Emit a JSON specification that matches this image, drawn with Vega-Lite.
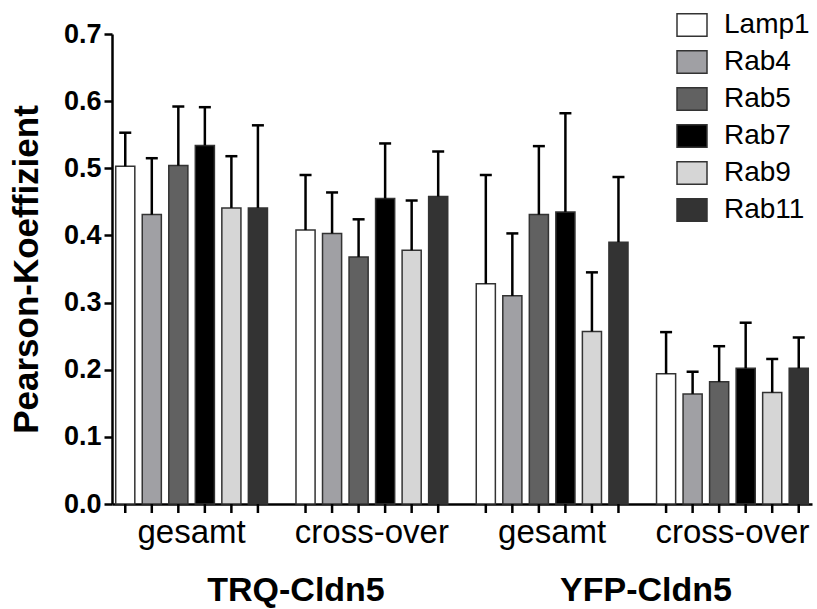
{
  "$schema": "https://vega.github.io/schema/vega-lite/v6.json",
  "width": 700,
  "height": 470,
  "autosize": "none",
  "padding": {"left": 112, "top": 34, "right": 5, "bottom": 105},
  "background": "white",
  "config": {"view": {"stroke": null}, "font": "Liberation Sans", "axis": {"grid": false}},
  "datasets": {
    "main": [
      {"group": "TRQ-Cldn5 gesamt", "protein": "Lamp1", "mean": 0.503, "upper": 0.553},
      {"group": "TRQ-Cldn5 gesamt", "protein": "Rab4", "mean": 0.431, "upper": 0.515},
      {"group": "TRQ-Cldn5 gesamt", "protein": "Rab5", "mean": 0.504, "upper": 0.592},
      {"group": "TRQ-Cldn5 gesamt", "protein": "Rab7", "mean": 0.534, "upper": 0.591},
      {"group": "TRQ-Cldn5 gesamt", "protein": "Rab9", "mean": 0.441, "upper": 0.518},
      {"group": "TRQ-Cldn5 gesamt", "protein": "Rab11", "mean": 0.441, "upper": 0.564},
      {"group": "TRQ-Cldn5 cross-over", "protein": "Lamp1", "mean": 0.408, "upper": 0.490},
      {"group": "TRQ-Cldn5 cross-over", "protein": "Rab4", "mean": 0.403, "upper": 0.464},
      {"group": "TRQ-Cldn5 cross-over", "protein": "Rab5", "mean": 0.368, "upper": 0.424},
      {"group": "TRQ-Cldn5 cross-over", "protein": "Rab7", "mean": 0.455, "upper": 0.537},
      {"group": "TRQ-Cldn5 cross-over", "protein": "Rab9", "mean": 0.378, "upper": 0.452},
      {"group": "TRQ-Cldn5 cross-over", "protein": "Rab11", "mean": 0.458, "upper": 0.525},
      {"group": "YFP-Cldn5 gesamt", "protein": "Lamp1", "mean": 0.328, "upper": 0.490},
      {"group": "YFP-Cldn5 gesamt", "protein": "Rab4", "mean": 0.310, "upper": 0.403},
      {"group": "YFP-Cldn5 gesamt", "protein": "Rab5", "mean": 0.431, "upper": 0.533},
      {"group": "YFP-Cldn5 gesamt", "protein": "Rab7", "mean": 0.435, "upper": 0.582},
      {"group": "YFP-Cldn5 gesamt", "protein": "Rab9", "mean": 0.257, "upper": 0.345},
      {"group": "YFP-Cldn5 gesamt", "protein": "Rab11", "mean": 0.390, "upper": 0.487},
      {"group": "YFP-Cldn5 cross-over", "protein": "Lamp1", "mean": 0.194, "upper": 0.256},
      {"group": "YFP-Cldn5 cross-over", "protein": "Rab4", "mean": 0.164, "upper": 0.197},
      {"group": "YFP-Cldn5 cross-over", "protein": "Rab5", "mean": 0.182, "upper": 0.235},
      {"group": "YFP-Cldn5 cross-over", "protein": "Rab7", "mean": 0.202, "upper": 0.270},
      {"group": "YFP-Cldn5 cross-over", "protein": "Rab9", "mean": 0.166, "upper": 0.216},
      {"group": "YFP-Cldn5 cross-over", "protein": "Rab11", "mean": 0.202, "upper": 0.248}
    ],
    "constructs": [
      {"construct": "TRQ-Cldn5"},
      {"construct": "YFP-Cldn5"}
    ]
  },
  "layer": [
    {
      "data": {"name": "main"},
      "encoding": {
        "x": {
          "field": "group", "type": "nominal", "sort": null,
          "scale": {"paddingInner": 0.117, "paddingOuter": 0},
          "axis": {
            "title": null, "ticks": false, "domainColor": "black", "domainWidth": 2.5,
            "labelFontSize": 33, "labelColor": "black", "labelPadding": 12, "labelAngle": 0,
            "labelExpr": "split(datum.label, ' ')[1]"
          }
        },
        "xOffset": {
          "field": "protein", "type": "nominal", "sort": null,
          "scale": {"paddingInner": 0.28, "paddingOuter": 0.14}
        }
      },
      "layer": [
        {
          "mark": {"type": "bar", "stroke": "#333333", "strokeWidth": 1.5},
          "encoding": {
            "y": {
              "field": "mean", "type": "quantitative",
              "scale": {"domain": [0, 0.7], "nice": false},
              "axis": {
                "title": "Pearson-Koeffizient", "titleFontSize": 35, "titleFontWeight": "bold",
                "titleColor": "black", "titlePadding": 19,
                "values": [0, 0.1, 0.2, 0.3, 0.4, 0.5, 0.6, 0.7], "format": ".1f",
                "domainColor": "black", "domainWidth": 2.5, "tickColor": "black", "tickWidth": 2.5,
                "tickSize": 8, "labelFontSize": 27, "labelFontWeight": "bold", "labelColor": "black",
                "labelPadding": 3
              }
            },
            "fill": {
              "field": "protein", "type": "nominal", "sort": null,
              "scale": {
                "domain": ["Lamp1", "Rab4", "Rab5", "Rab7", "Rab9", "Rab11"],
                "range": ["#ffffff", "#a0a0a4", "#616161", "#000000", "#d6d6d6", "#333333"]
              },
              "legend": {
                "orient": "none", "legendX": 564, "legendY": -25, "title": null,
                "symbolType": "M-1,-0.75L1,-0.75L1,0.75L-1,0.75Z", "symbolSize": 900,
                "symbolStrokeColor": "#333333", "symbolStrokeWidth": 1.5,
                "labelFontSize": 28, "labelColor": "black", "labelOffset": 16, "rowPadding": 6
              }
            }
          }
        },
        {
          "mark": {"type": "rule", "stroke": "black", "strokeWidth": 2.5},
          "encoding": {
            "y": {"field": "mean", "type": "quantitative"},
            "y2": {"field": "upper"}
          }
        },
        {
          "mark": {"type": "tick", "color": "black", "thickness": 2.5, "size": 12, "orient": "horizontal", "opacity": 1},
          "encoding": {"y": {"field": "upper", "type": "quantitative"}}
        },
        {
          "mark": {"type": "tick", "color": "black", "thickness": 2.5, "size": 9, "orient": "vertical", "yOffset": 4.5, "opacity": 1},
          "encoding": {"y": {"datum": 0, "type": "quantitative"}}
        }
      ]
    },
    {
      "data": {"name": "constructs"},
      "mark": {"type": "text", "fontSize": 34, "fontWeight": "bold", "dy": 87, "dx": 9, "baseline": "middle", "color": "black"},
      "encoding": {
        "x": {"field": "construct", "type": "nominal", "axis": null, "scale": {"paddingInner": 0, "paddingOuter": 0}},
        "y": {"datum": 0, "type": "quantitative"},
        "text": {"field": "construct"}
      }
    }
  ],
  "resolve": {"scale": {"x": "independent"}}
}
